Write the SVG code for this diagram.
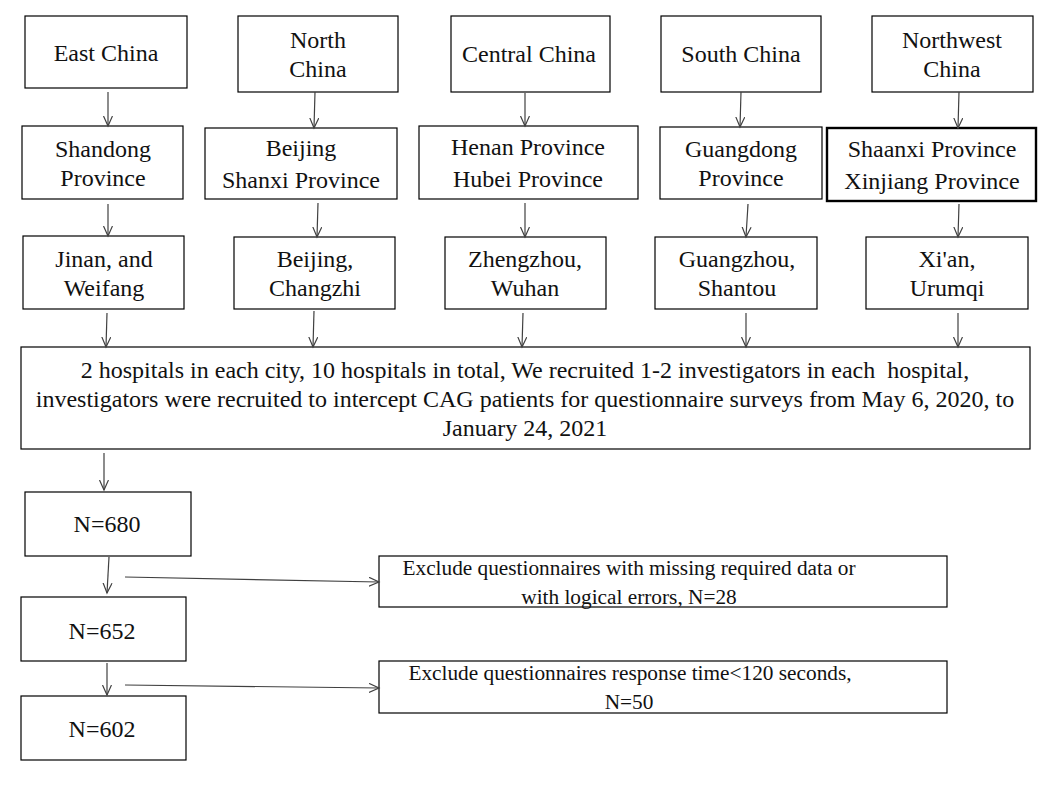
<svg xmlns="http://www.w3.org/2000/svg" width="1048" height="787" viewBox="0 0 1048 787">
<defs>
<style>
.box{fill:#fff;stroke:#000;stroke-width:1.2}
.thick{fill:#fff;stroke:#000;stroke-width:2.4}
text{font-family:"Liberation Serif","Times New Roman",serif;fill:#111;text-anchor:middle}
.s{font-size:24px}
.b{font-size:24px}
.e{font-size:21.3px}
.c line{stroke:#404040;stroke-width:1.2;fill:none}
</style>
<marker id="ah" markerUnits="userSpaceOnUse" markerWidth="12" markerHeight="12" refX="10" refY="5" orient="auto">
<path d="M0,0.5 L10,5 L0,9.5" fill="none" stroke="#404040" stroke-width="1.2"/>
</marker>
</defs>
<rect width="1048" height="787" fill="#fff"/>

<g id="east-china"><rect class="box" x="25" y="16" width="162" height="72"/><text class="s" x="106" y="61">East China</text></g>
<g id="north-china"><rect class="box" x="238" y="16" width="160" height="76"/><text class="s" x="318" y="48">North</text><text class="s" x="318" y="77">China</text></g>
<g id="central-china"><rect class="box" x="451" y="16" width="159" height="76"/><text class="s" x="529" y="62">Central China</text></g>
<g id="south-china"><rect class="box" x="661" y="16" width="160" height="76"/><text class="s" x="741" y="62">South China</text></g>
<g id="northwest-china"><rect class="box" x="872" y="16" width="161" height="76"/><text class="s" x="952" y="48">Northwest</text><text class="s" x="952" y="77">China</text></g>

<g id="shandong"><rect class="box" x="22" y="126" width="161" height="73"/><text class="s" x="103" y="157">Shandong</text><text class="s" x="103" y="186">Province</text></g>
<g id="beijing-shanxi"><rect class="box" x="205" y="128" width="192" height="71"/><text class="s" x="301" y="156">Beijing</text><text class="s" x="301" y="188">Shanxi Province</text></g>
<g id="henan-hubei"><rect class="box" x="419" y="126" width="219" height="73"/><text class="s" x="528" y="155">Henan Province</text><text class="s" x="528" y="187">Hubei Province</text></g>
<g id="guangdong"><rect class="box" x="660" y="127" width="162" height="72"/><text class="s" x="741" y="157">Guangdong</text><text class="s" x="741" y="186">Province</text></g>
<g id="shaanxi-xinjiang"><rect class="thick" x="827" y="128" width="209" height="73"/><text class="s" x="932" y="157">Shaanxi Province</text><text class="s" x="932" y="189">Xinjiang Province</text></g>

<g id="jinan-weifang"><rect class="box" x="23" y="236" width="161" height="73"/><text class="s" x="104" y="267">Jinan, and</text><text class="s" x="104" y="296">Weifang</text></g>
<g id="beijing-changzhi"><rect class="box" x="234" y="237" width="161" height="72"/><text class="s" x="315" y="267">Beijing,</text><text class="s" x="315" y="296">Changzhi</text></g>
<g id="zhengzhou-wuhan"><rect class="box" x="445" y="237" width="161" height="72"/><text class="s" x="525" y="267">Zhengzhou,</text><text class="s" x="525" y="296">Wuhan</text></g>
<g id="guangzhou-shantou"><rect class="box" x="655" y="237" width="162" height="72"/><text class="s" x="737" y="267">Guangzhou,</text><text class="s" x="737" y="296">Shantou</text></g>
<g id="xian-urumqi"><rect class="box" x="866" y="237" width="162" height="72"/><text class="s" x="947" y="267">Xi'an,</text><text class="s" x="947" y="296">Urumqi</text></g>

<g id="hospitals"><rect class="box" x="21" y="347" width="1009" height="102"/>
<text class="b" x="525" y="378" xml:space="preserve">2 hospitals in each city, 10 hospitals in total, We recruited 1-2 investigators in each  hospital,</text>
<text class="b" x="525" y="407">investigators were recruited to intercept CAG patients for questionnaire surveys from May 6, 2020, to</text>
<text class="b" x="525" y="436">January 24, 2021</text></g>

<g id="n680"><rect class="box" x="25" y="492" width="166" height="64"/><text class="s" x="107" y="532">N=680</text></g>
<g id="n652"><rect class="box" x="21" y="597" width="165" height="64"/><text class="s" x="102" y="639">N=652</text></g>
<g id="n602"><rect class="box" x="21" y="696" width="165" height="64"/><text class="s" x="102" y="737">N=602</text></g>

<g id="exclude-missing"><rect class="box" x="379" y="556" width="568" height="51"/><text class="e" x="629" y="575">Exclude questionnaires with missing required data or</text><text class="e" x="629" y="604">with logical errors, N=28</text></g>
<g id="exclude-time"><rect class="box" x="379" y="661" width="568" height="52"/><text class="e" x="630" y="680">Exclude questionnaires response time&lt;120 seconds,</text><text class="e" x="629" y="709">N=50</text></g>

<g id="connectors" class="c">
<line x1="108" y1="92" x2="108" y2="126" marker-end="url(#ah)"/>
<line x1="315" y1="92" x2="314" y2="128" marker-end="url(#ah)"/>
<line x1="525" y1="93" x2="525" y2="126" marker-end="url(#ah)"/>
<line x1="741" y1="92" x2="740" y2="127" marker-end="url(#ah)"/>
<line x1="959" y1="92" x2="958" y2="128" marker-end="url(#ah)"/>
<line x1="108" y1="204" x2="108" y2="236" marker-end="url(#ah)"/>
<line x1="318" y1="203" x2="317" y2="237" marker-end="url(#ah)"/>
<line x1="525" y1="203" x2="525" y2="237" marker-end="url(#ah)"/>
<line x1="748" y1="204" x2="746" y2="237" marker-end="url(#ah)"/>
<line x1="959" y1="204" x2="958" y2="237" marker-end="url(#ah)"/>
<line x1="107" y1="313" x2="106" y2="347" marker-end="url(#ah)"/>
<line x1="314" y1="311" x2="313" y2="347" marker-end="url(#ah)"/>
<line x1="523" y1="313" x2="522" y2="347" marker-end="url(#ah)"/>
<line x1="746" y1="313" x2="746" y2="347" marker-end="url(#ah)"/>
<line x1="958" y1="313" x2="958" y2="347" marker-end="url(#ah)"/>
<line x1="104" y1="453" x2="104" y2="490" marker-end="url(#ah)"/>
<line x1="109" y1="557" x2="107" y2="593" marker-end="url(#ah)"/>
<line x1="107" y1="663" x2="107" y2="695" marker-end="url(#ah)"/>
<line x1="125" y1="577" x2="379" y2="582" marker-end="url(#ah)"/>
<line x1="125" y1="685" x2="379" y2="688" marker-end="url(#ah)"/>
</g>
</svg>
